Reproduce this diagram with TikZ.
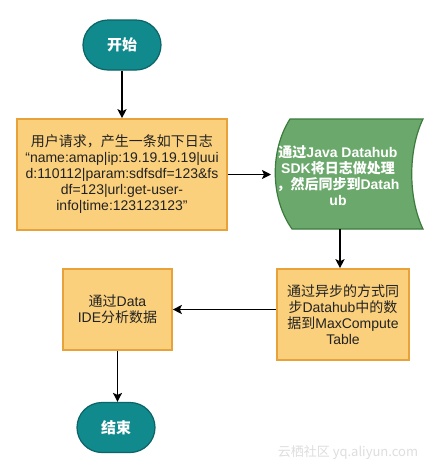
\documentclass[tikz,border=0pt]{standalone}
\usepackage{fontspec}
\setmainfont{Liberation Sans}
\newfontfamily\cjk{Noto Sans CJK SC}
\usetikzlibrary{arrows.meta,calc}
\definecolor{tealfill}{HTML}{118A8E}
\definecolor{tealbd}{HTML}{0B6467}
\definecolor{orfill}{HTML}{FBD07C}
\definecolor{orbd}{HTML}{E8A23A}
\definecolor{grfill}{HTML}{6BA86B}
\definecolor{grbd}{HTML}{3D7A3D}
\definecolor{txt}{HTML}{222222}
\begin{document}
\begin{tikzpicture}[x=1pt,y=-1pt,
  proc/.style={draw=orbd, fill=orfill, line width=1.6pt, text=txt, align=center, inner sep=0pt, font=\fontsize{14pt}{16pt}\selectfont},
  term/.style={draw=tealbd, fill=tealfill, line width=1.2pt, rounded corners=25pt, minimum width=78pt, minimum height=50pt, text=white, font=\cjk\bfseries\fontsize{15pt}{17pt}\selectfont},
  arr/.style={line width=1.6pt, -{Stealth[length=9pt,width=9pt,inset=2pt]}}]
\useasboundingbox[fill=white] (0,0) rectangle (429,472);
% start
\node[term] (start) at (122,45) {开始};
% request box
\node[proc, minimum width=210pt, minimum height=111pt] (req) at (122,174.5)
  {{\cjk 用户请求，产生一条如下日志}\\“name:amap|ip:19.19.19.19|uui\\d:110112|param:sdfsdf=123\&fs\\df=123|url:get-user-\\info|time:123123123”};
% stored data shape
\draw[draw=grbd, fill=grfill, line width=1.2pt]
  (290,119) -- (423,119)
  .. controls (408,150) and (408,198) .. (423,229)
  -- (292,229)
  .. controls (270,198) and (270,150) .. (290,119) -- cycle;
\node[text=white, align=center, inner sep=0pt, font=\bfseries\fontsize{14pt}{16pt}\selectfont] (sdk) at (338,176)
  {{\cjk 通过}Java Datahub\\SDK{\cjk 将日志做处理}\\{\cjk ，然后同步到}Datah\\ub};
\coordinate (gin) at (271,174.5);
\coordinate (gout) at (340,229);
% sync box
\node[proc, minimum width=132pt, minimum height=91pt] (sync) at (343,314.5)
  {{\cjk 通过异步的方式同}\\{\cjk 步}Datahub{\cjk 中的数}\\{\cjk 据到}MaxCompute\\Table};
% analysis box
\node[proc, minimum width=109pt, minimum height=81pt] (ana) at (117.5,309.5)
  {{\cjk 通过}Data\\IDE{\cjk 分析数据}};
% end
\node[term] (stop) at (116,427.5) {结束};
% watermark
\node[text=black!13, font=\cjk\fontsize{13pt}{15pt}\selectfont] (wm) at (348,453) {云栖社区 yq.aliyun.com};
% connectors
\draw[arr] (start) -- (req);
\draw[arr] (req.east) -- (gin);
\draw[arr] (gout) -- (gout |- sync.north);
\draw[arr] (sync.west |- ana) -- (ana.east);
\draw[arr] (ana.south) -- (ana.south |- stop.north);
\end{tikzpicture}
\end{document}
